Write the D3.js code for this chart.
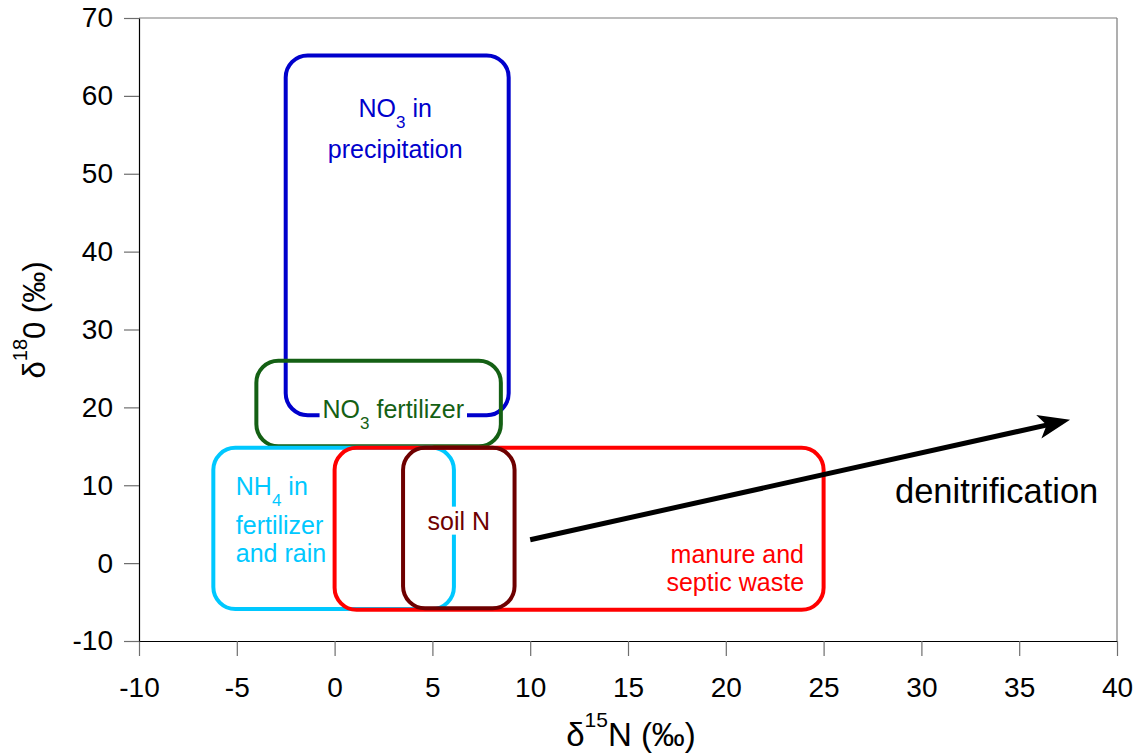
<!DOCTYPE html>
<html lang="en">
<head>
<meta charset="UTF-8">
<title>Nitrate sources</title>
<script src="https://cdn.jsdelivr.net/npm/d3@7/dist/d3.min.js"></script>
<style>
  body { margin: 0; background: #fff; }
  text { font-family: "Liberation Sans", Arial, sans-serif; }
  .axis path { stroke: #000; stroke-width: 1.2px; }
  .axis line { stroke: #6e6e6e; stroke-width: 1.2px; }
  .axis text { font-size: 28px; fill: #000; font-family: "Liberation Sans", Arial, sans-serif; }
  .frame { stroke: #7a7a7a; stroke-width: 1.2px; }
  .box { fill: none; stroke-width: 4px; }
</style>
</head>
<body>
<script>
// tick values
var xTicks = [-10, -5, 0, 5, 10, 15, 20, 25, 30, 35, 40];
var yTicks = [-10, 0, 10, 20, 30, 40, 50, 60, 70];

// source fields, d15N / d18O ranges (permil)
var sources = ['precip', 'no3fert', 'nh4', 'manure', 'soil'];
var n15Min = [-2.5, -4.0, -6.2, 0.0, 3.5];
var n15Max = [8.9, 8.5, 6.1, 25.0, 9.2];
var o18Min = [19.0, 15.0, -5.9, -6.0, -5.8];
var o18Max = [65.2, 26.0, 14.8, 14.8, 14.8];

// label lines (data coords of anchor); "_" marks a subscript digit
var labelLines = ['NO_3 in', 'precipitation', 'NO_3 fertilizer', 'NH_4 in', 'fertilizer', 'and rain', 'soil N', 'manure and', 'septic waste'];
var labelSource = ['precip', 'precip', 'no3fert', 'nh4', 'nh4', 'nh4', 'soil', 'manure', 'manure'];
var labelX = [3.1, 3.1, 3.0, -5.05, -5.05, -5.05, 6.35, 24.0, 24.0];
var labelY = [57.3, 52.0, 18.6, 8.8, 3.8, 0.2, 4.3, 0.0, -3.6];

// denitrification trend
var arrowN15 = [10.0, 37.6];
var arrowO18 = [3.0, 18.4];

var color = d3.scaleOrdinal()
  .domain(sources)
  .range(['#0000cc', '#146014', '#00c8ff', '#ff0000', '#6e0000']);

var margin = {top: 18, right: 21, bottom: 114, left: 139};
var width = 1138 - margin.left - margin.right,
    height = 755 - margin.top - margin.bottom;

var svg = d3.select('body').append('svg')
  .attr('width', 1138)
  .attr('height', 755);

var g = svg.append('g')
  .attr('transform', 'translate(' + margin.left + ',' + margin.top + ')');

var x = d3.scaleLinear().domain([-10, 40]).range([0, width]);
var y = d3.scaleLinear().domain([-10, 70]).range([height, 0]);

// plain hyphen for negatives, like the original
var fmt = function (d) { return String(d); };

// frame top and right
g.append('line').attr('class', 'frame')
  .attr('x1', 0).attr('x2', width).attr('y1', 0).attr('y2', 0);
g.append('line').attr('class', 'frame')
  .attr('x1', width).attr('x2', width).attr('y1', 0).attr('y2', height);

g.append('g')
  .attr('class', 'axis')
  .attr('transform', 'translate(0,' + height + ')')
  .call(d3.axisBottom(x).tickValues(xTicks).tickFormat(fmt).tickSize(15).tickSizeOuter(0).tickPadding(21));

g.append('g')
  .attr('class', 'axis')
  .call(d3.axisLeft(y).tickValues(yTicks).tickFormat(fmt).tickSize(15).tickSizeOuter(0).tickPadding(11));

// boxes
sources.forEach(function (s, i) {
  g.append('rect')
    .attr('class', 'box')
    .attr('x', x(n15Min[i]))
    .attr('y', y(o18Max[i]))
    .attr('width', x(n15Max[i]) - x(n15Min[i]))
    .attr('height', y(o18Min[i]) - y(o18Max[i]))
    .attr('rx', 22).attr('ry', 22)
    .style('stroke', color(s));
});

// arrow
var ax0 = x(arrowN15[0]), ay0 = y(arrowO18[0]),
    ax1 = x(arrowN15[1]), ay1 = y(arrowO18[1]);
var ang = Math.atan2(ay1 - ay0, ax1 - ax0);
var headLen = 32, headW = 12, notch = 8;
g.append('line')
  .attr('x1', ax0).attr('y1', ay0)
  .attr('x2', ax1 - (headLen - notch - 2) * Math.cos(ang))
  .attr('y2', ay1 - (headLen - notch - 2) * Math.sin(ang))
  .style('stroke', '#000').style('stroke-width', 5);
g.append('path')
  .attr('d', 'M0,0 L' + (-headLen) + ',' + (-headW) + ' L' + (-headLen + notch) + ',0 L' + (-headLen) + ',' + headW + ' Z')
  .attr('transform', 'translate(' + ax1 + ',' + ay1 + ') rotate(' + (ang * 180 / Math.PI) + ')')
  .style('fill', '#000');

// labels
labelLines.forEach(function (txt, i) {
  var s = labelSource[i];
  var anchor = s === 'nh4' ? 'start' : (s === 'manure' ? 'end' : 'middle');
  var t = g.append('text')
    .attr('x', x(labelX[i]))
    .attr('y', y(labelY[i]))
    .style('text-anchor', anchor)
    .style('font-size', '25px')
    .style('fill', color(s));
  var parts = txt.split('_');
  if (parts.length === 1) {
    t.text(txt);
  } else {
    t.append('tspan').text(parts[0]);
    t.append('tspan').attr('dy', 11).style('font-size', '17px').text(parts[1].charAt(0));
    t.append('tspan').attr('dy', -11).text(parts[1].slice(1));
  }
  if (s === 'no3fert' || s === 'soil') {
    var bb = t.node().getBBox();
    g.insert('rect', function () { return t.node(); })
      .attr('x', bb.x - 3).attr('y', bb.y)
      .attr('width', bb.width + 6).attr('height', bb.height)
      .style('fill', '#fff');
  }
});

g.append('text')
  .attr('x', x(28.65))
  .attr('y', y(7.7))
  .style('font-size', '34.5px')
  .style('fill', '#000')
  .text('denitrification');

// axis titles
var xt = svg.append('text')
  .attr('x', 631).attr('y', 746)
  .style('text-anchor', 'middle')
  .style('font-size', '33px');
xt.append('tspan').text('δ');
xt.append('tspan').attr('dy', -19).style('font-size', '21px').text('15');
xt.append('tspan').attr('dy', 19).text('N (‰)');

var yt = svg.append('text')
  .attr('transform', 'translate(45,320) rotate(-90)')
  .style('text-anchor', 'middle')
  .style('font-size', '31px');
yt.append('tspan').text('δ');
yt.append('tspan').attr('dy', -18).style('font-size', '20px').text('18');
yt.append('tspan').attr('dy', 18).text('0 (‰)');
</script>
</body>
</html>
